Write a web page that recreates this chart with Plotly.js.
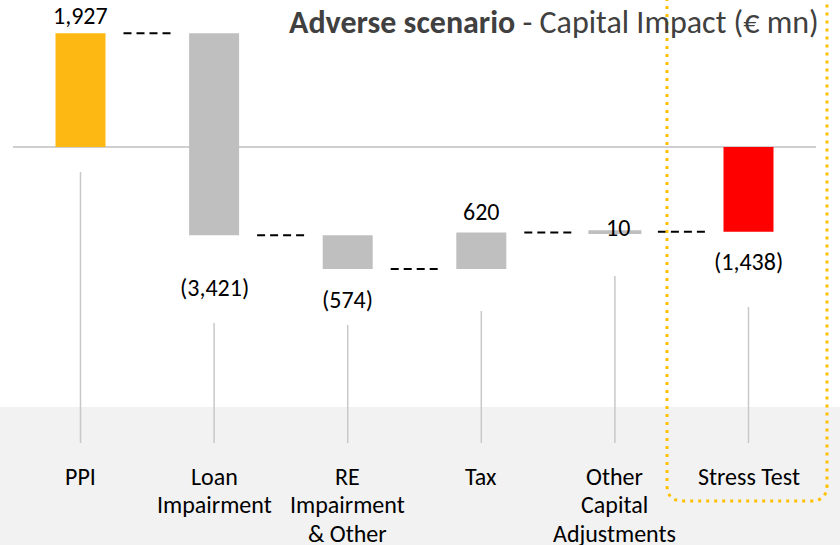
<!DOCTYPE html>
<html>
<head>
<meta charset="utf-8">
<script src="https://cdn.plot.ly/plotly-3.0.1.min.js"></script>
<style>html,body{margin:0;padding:0;background:#fff;}#chart{width:840px;height:545px;}</style>
</head>
<body>
<div id="chart"></div>
<script>
// ---- data ----
const categories = ['PPI', 'Loan<br>Impairment', 'RE<br>Impairment<br>& Other', 'Tax', 'Other<br>Capital<br>Adjustments', 'Stress Test'];
const values = [1927, -3421, -574, 620, 10, -1438];
const measures = ['relative', 'relative', 'relative', 'relative', 'relative', 'total'];
const barColors = ['#FDB813', '#BFBFBF', '#BFBFBF', '#BFBFBF', '#BFBFBF', '#FF0000'];

// ---- layout constants (pixels) ----
const W = 840, H = 545;
const X0 = 80.5, DX = 133.6;       // pixel centre of first category, spacing
const Y0 = 147, PPU = 0.059;        // pixel of zero line, pixels per unit
const BARW = 50 / DX;
const GAP = 18 / DX;
const FONT = 'Carlito, Calibri, Lato, sans-serif';

const xIdx = categories.map((c, i) => i);
const bases = [], lengths = [], ends = [];
let run = 0;
values.forEach((v, i) => {
  if (measures[i] === 'total') { bases.push(0); lengths.push(run); }
  else { bases.push(run); lengths.push(v); run += v; }
  ends.push(run);
});
const fmt = v => { const s = Math.abs(v).toLocaleString('en-US'); return v < 0 ? '(' + s + ')' : s; };

const bars = {
  type: 'bar', x: xIdx, y: lengths, base: bases, width: BARW,
  marker: { color: barColors, line: { color: '#BFBFBF', width: values.map(v => Math.abs(v) < 50 ? 3 : 0) } },
  hoverinfo: 'skip', showlegend: false
};

// connectors
const cx = [], cy = [];
for (let i = 0; i < values.length - 1; i++) {
  cx.push(i + BARW / 2 + GAP, i + 1 - BARW / 2 - GAP, null);
  cy.push(ends[i], ends[i], null);
}
const connectors = {
  type: 'scatter', mode: 'lines', x: cx, y: cy,
  line: { color: '#000000', width: 2, dash: '8px,5px' },
  hoverinfo: 'skip', showlegend: false
};

const px = p => p / W, py = p => 1 - p / H;

// label offsets (style)
const labelShift = [[0, 18], [0, -52], [0, -30], [0, 21], [3, 4], [0, -30]];
const labelAnn = values.map((v, i) => ({
  x: i, y: ends[i], xref: 'x', yref: 'y', text: fmt(v), showarrow: false,
  xanchor: 'center', yanchor: 'middle', xshift: labelShift[i][0], yshift: labelShift[i][1],
  font: { family: FONT, size: 24, color: '#000' }
}));
const catAnn = [];
categories.forEach((c, i) => {
  c.split('<br>').forEach((line, k) => {
    catAnn.push({
      x: i, y: py(476 + k * 28.5), xref: 'x', yref: 'paper', text: line, showarrow: false,
      xanchor: 'center', yanchor: 'middle', font: { family: FONT, size: 24, color: '#000' }
    });
  });
});
const titleAnn = {
  x: px(821), y: py(22), xref: 'paper', yref: 'paper', xanchor: 'right', yanchor: 'middle',
  text: '<b>Adverse scenario</b> - Capital Impact (€ mn)', showarrow: false,
  font: { family: FONT, size: 32, color: '#404040' }
};

// leader lines (style: pixel tops)
const leaderTop = [172, 323, 325, 311, 276, 307];
const leaders = leaderTop.map((t, i) => ({
  type: 'line', xref: 'x', yref: 'paper', x0: i, x1: i, y0: py(t), y1: py(443),
  line: { color: '#C8C8C8', width: 1.5 }, layer: 'below'
}));

// highlight box
const L = 667, R = 827, B = 501, T = -10, r = 16;
const boxPath = `M ${px(L)} ${py(T)} L ${px(L)} ${py(B - r)} Q ${px(L)} ${py(B)} ${px(L + r)} ${py(B)} ` +
  `L ${px(R - r)} ${py(B)} Q ${px(R)} ${py(B)} ${px(R)} ${py(B - r)} L ${px(R)} ${py(T)}`;

const shapes = [
  { type: 'rect', xref: 'paper', yref: 'paper', x0: 0, x1: 1, y0: 0, y1: py(407), fillcolor: '#F2F2F2', line: { width: 0 }, layer: 'below' },
  ...leaders,
  { type: 'line', xref: 'paper', yref: 'y', x0: px(13), x1: px(816), y0: 0, y1: 0, line: { color: '#BFBFBF', width: 1.5 }, layer: 'below' },
  { type: 'path', xref: 'paper', yref: 'paper', path: boxPath, line: { color: '#FFC000', width: 3, dash: '3px,5px' } }
];

const layout = {
  width: W, height: H, margin: { l: 0, r: 0, t: 0, b: 0 },
  paper_bgcolor: '#fff', plot_bgcolor: 'rgba(0,0,0,0)',
  xaxis: { range: [-X0 / DX, (W - X0) / DX], visible: false, fixedrange: true },
  yaxis: { range: [-(H - Y0) / PPU, Y0 / PPU], visible: false, fixedrange: true },
  shapes: shapes,
  annotations: [titleAnn, ...labelAnn, ...catAnn],
  hovermode: false, showlegend: false
};
Plotly.newPlot('chart', [bars, connectors], layout, { displayModeBar: false, staticPlot: true });
</script>
</body>
</html>
